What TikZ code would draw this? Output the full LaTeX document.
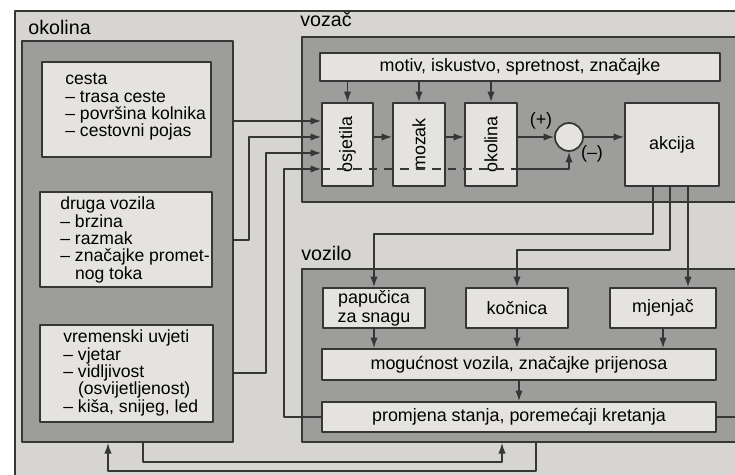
\documentclass[tikz,border=0pt]{standalone}
\usepackage{fontspec}
\setmainfont{Liberation Sans}
\usetikzlibrary{arrows.meta,fit}
\definecolor{papir}{HTML}{D6D5D1}
\definecolor{tamno}{HTML}{9D9D9B}
\definecolor{svijetlo}{HTML}{E4E3E0}
\definecolor{crta}{HTML}{363636}
\tikzset{
	grupa/.style={draw=crta, line width=1.1pt, fill=tamno, inner sep=0pt},
	blok/.style={draw=crta, line width=1pt, fill=svijetlo, inner sep=0pt},
	veza/.style={draw=crta, line width=0.8pt},
	strel/.style={veza, -{Latex[length=6pt,width=4.2pt]}},
	opis/.style={align=left, inner sep=0pt, anchor=west, font=\fontsize{10}{9.9}\selectfont},
	naslov/.style={anchor=base west, inner sep=0pt, font=\fontsize{11.2}{13}\selectfont}
}
\begin{document}
\begin{tikzpicture}[x=0.02cm, y=-0.02cm, font=\fontsize{10.2}{10.8}\selectfont, line join=round]
				\useasboundingbox (0,0) rectangle (735,475);
				\fill[white] (0,0) rectangle (735,475);
				\fill[papir] (15,11) rectangle (740,480);
				\draw[veza] (15,480) -- (15,11) -- (740,11);
				% okolina
				\node[grupa, fit={(22,41) (233,442)}] (okb) {};
				\node[naslov] (okl) at (28,35) {okolina};
				\node[blok, fit={(42,62) (211,157)}] (cesta) {};
				\node[blok, fit={(40,192) (212,287)}] (druga) {};
				\node[blok, fit={(40,325) (213,422)}] (vrem) {};
				\node[opis] (cestaT) at (65,107) {cesta\\– trasa ceste\\– površina kolnika\\– cestovni pojas};
				\node[opis] (drugaT) at (60,240) {druga vozila\\– brzina\\– razmak\\– značajke promet-\\\phantom{– }nog toka};
				\node[opis] (vremT) at (63,373) {vremenski uvjeti\\– vjetar\\– vidljivost\\\phantom{– }(osvijetljenost)\\– kiša, snijeg, led};
				% vozac
				\node[grupa, fit={(302,37) (745,202)}] (vzb) {};
				\node[naslov] (vzl) at (300,27) {vozač};
				\node[blok, fit={(320,53) (720,81)}, label={[name=motT]center:motiv, iskustvo, spretnost, značajke}] (mot) {};
				\node[blok, fit={(322,103) (373,186)}] (osj) {};
				\node[blok, fit={(393,103) (445,186)}] (moz) {};
				\node[blok, fit={(465,103) (517,186)}] (okn) {};
				\node[blok, fit={(625,103) (719,186)}, label={[name=akcT]center:akcija}] (akc) {};
				\node[blok, circle, minimum size=0.56cm] (zb) at (569,137) {};
				\foreach \b/\t in {osj/osjetila, moz/mozak, okn/okolina}
					\node[rotate=90, inner sep=0pt] (\b T) at (\b) {\t};
				\node (plus) at (541,121) {(+)};
				\node (minus) at (592,154) {(–)};
				% vozilo
				\node[grupa, fit={(302,269) (745,442)}] (vlb) {};
				\node[naslov] (vll) at (301,261) {vozilo};
				\node[blok, fit={(323,288) (425,328)}, label={[name=papT, align=center]center:papučica\\za snagu}] (pap) {};
				\node[blok, fit={(466,288) (568,328)}, label={[name=kocT]center:kočnica}] (koc) {};
				\node[blok, fit={(610,288) (716,328)}, label={[name=mjeT]center:mjenjač}] (mje) {};
				\node[blok, fit={(322,349) (716,380)}, label={[name=mogT]center:mogućnost vozila, značajke prijenosa}] (mog) {};
				\node[blok, fit={(322,402) (716,432)}, label={[name=prmT]center:promjena stanja, poremećaji kretanja}] (prm) {};
				\coordinate (desno) at (740,417);
				% veze vozac
				\foreach \b in {osj,moz,okn} \draw[strel] (\b.north |- mot.south) -- (\b.north);
				\foreach \a/\b in {osj/moz, moz/okn} \draw[strel] (\a.east |- zb) -- (\b.west |- zb);
				\draw[strel] (okn.east |- zb) -- (zb.west);
				\draw[strel] (zb.east) -- (akc.west |- zb);
				\draw[strel] (okb.east |- 0,121) -- (osj.west |- 0,121);
				\draw[strel] (okb.east |- 0,240) -| (249,137) -- (osj.west |- 0,137);
				\draw[strel] (okb.east |- 0,373) -| (266,153) -- (osj.west |- 0,153);
				\draw[strel] (prm.west) -| (284,169) -- (osj.west |- 0,169);
				\draw[veza, dash pattern=on 5pt off 4pt] (osj.west |- 0,169) -- (okn.east |- 0,169);
				\draw[strel] (okn.east |- 0,169) -| (zb.south);
				% veze vozilo
				\draw[strel] (akc.south -| 653,0) |- (pap.north |- 0,234) -- (pap.north);
				\draw[strel] (akc.south -| 670,0) |- (koc.north |- 0,250) -- (koc.north);
				\draw[strel] (akc.south -| 688,0) -- (mje.north -| 688,0);
				\foreach \b in {pap,koc,mje} \draw[strel] (\b.south) -- (\b.south |- mog.north);
				\draw[strel] (mog.south) -- (prm.north);
				\draw[veza] (prm.east) -- (desno);
				\draw[strel] (okb.south -| 143,0) -- ++(0,19) -| (vlb.south -| 502,0);
				\draw[strel] (vlb.south -| 536,0) -- ++(0,28) -| (okb.south -| 108,0);
	\end{tikzpicture}
\end{document}
